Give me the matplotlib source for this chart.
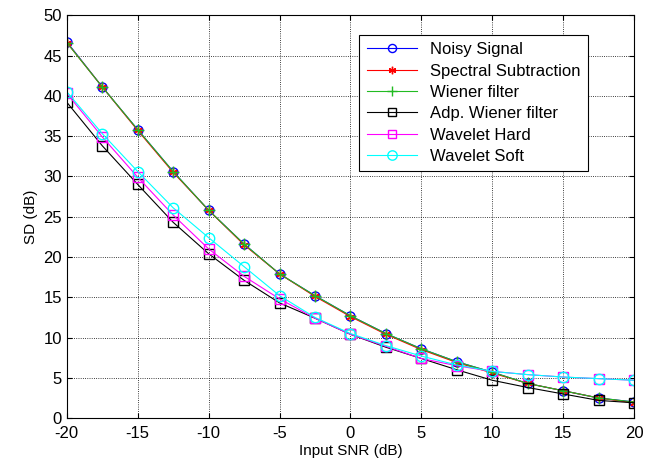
import numpy as np
import matplotlib.pyplot as plt

plt.rcParams['font.family'] = ['Liberation Sans', 'DejaVu Sans']
plt.rcParams['axes.unicode_minus'] = False

snr = [-20, -17.5, -15, -12.5, -10, -7.5, -5, -2.5, 0, 2.5, 5, 7.5, 10, 12.5, 15, 17.5, 20]

noisy = [46.7, 41.1, 35.8, 30.6, 25.8, 21.6, 17.9, 15.2, 12.7, 10.5, 8.6, 7.0, 5.7, 4.3, 3.4, 2.5, 2.0]
spectral = [46.6, 41.1, 35.7, 30.5, 25.8, 21.5, 17.9, 15.1, 12.6, 10.4, 8.5, 6.9, 5.6, 4.3, 3.4, 2.5, 1.9]
wiener = [46.6, 41.1, 35.8, 30.6, 25.8, 21.6, 17.9, 15.2, 12.7, 10.5, 8.6, 7.0, 5.7, 4.3, 3.4, 2.5, 2.0]
adp_wiener = [39.2, 33.8, 29.0, 24.3, 20.4, 17.1, 14.3, 12.4, 10.4, 8.8, 7.4, 6.0, 4.7, 3.8, 3.0, 2.2, 1.9]
wav_hard = [40.3, 34.9, 29.9, 25.2, 21.0, 17.6, 14.8, 12.4, 10.4, 8.9, 7.4, 6.5, 5.8, 5.4, 5.1, 4.9, 4.7]
wav_soft = [40.5, 35.3, 30.6, 26.1, 22.4, 18.8, 15.2, 12.5, 10.5, 9.0, 7.7, 6.6, 5.8, 5.4, 5.1, 4.9, 4.7]

fig = plt.figure(figsize=(6.55, 4.61), dpi=100)
ax = fig.add_axes([0.102, 0.093, 0.866, 0.874])

lw = 0.8
ax.plot(snr, noisy, color='blue', marker='o', ms=6.5, mfc='none', lw=lw, label='Noisy Signal')
ax.plot(snr, spectral, color='red', marker=(6, 2, 0), ms=6, lw=lw, label='Spectral Subtraction')
ax.plot(snr, wiener, color='#22bb22', marker='+', ms=8, lw=lw, label='Wiener filter')
ax.plot(snr, adp_wiener, color='black', marker='s', ms=7, mfc='none', lw=lw, label='Adp. Wiener filter')
ax.plot(snr, wav_hard, color='magenta', marker='s', ms=7, mfc='none', lw=lw, label='Wavelet Hard')
ax.plot(snr, wav_soft, color='cyan', marker='o', ms=7.5, mfc='none', lw=lw, label='Wavelet Soft')

ax.set_xlim(-20, 20)
ax.set_ylim(0, 50)
ax.set_xticks(np.arange(-20, 21, 5))
ax.set_yticks(np.arange(0, 51, 5))
ax.tick_params(direction='in', top=True, right=True, labelsize=12)
ax.tick_params(axis='x', pad=6)
ax.grid(True, linestyle=':', color='black', lw=0.6)
ax.set_xlabel('Input SNR (dB)', fontsize=11, labelpad=2)
ax.set_ylabel('SD (dB)', fontsize=11)

leg = ax.legend(loc='upper right', bbox_to_anchor=(0.934, 0.972), fontsize=12,
                fancybox=False, framealpha=1, edgecolor='black',
                handlelength=3.0, borderpad=0.45, labelspacing=0.38, markerscale=0.9)
leg.get_frame().set_linewidth(0.8)

fig.savefig('out.png', dpi=100)
